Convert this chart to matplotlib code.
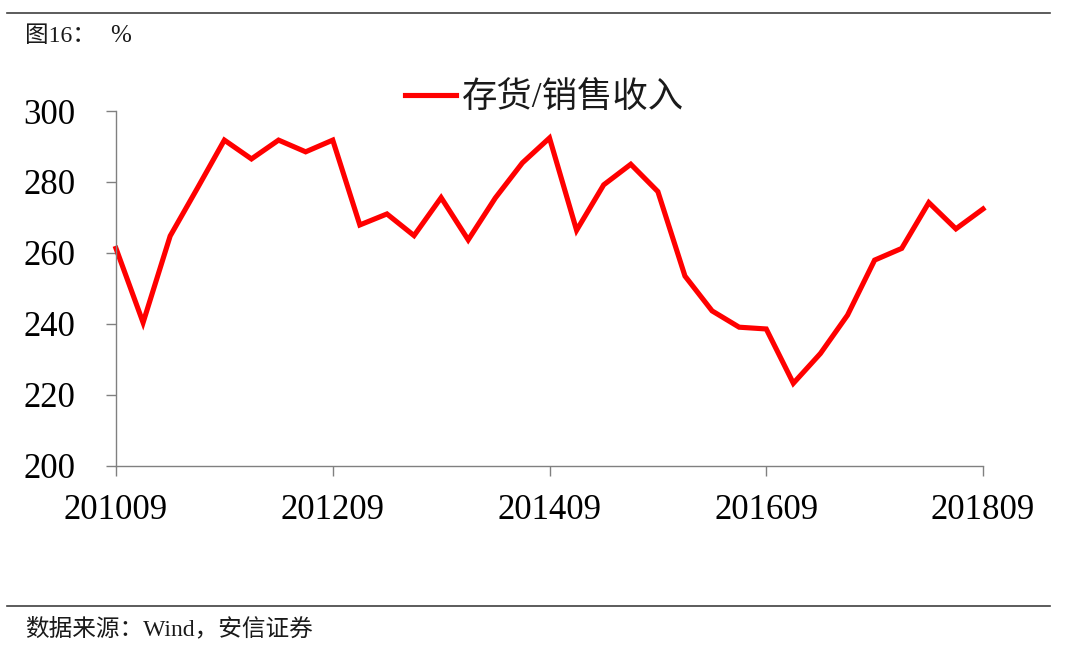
import matplotlib
matplotlib.use("Agg")
import matplotlib.pyplot as plt
from matplotlib.lines import Line2D

plt.rcParams['font.family'] = ['Liberation Serif', 'Noto Sans CJK SC', 'DejaVu Sans']

periods = ['201009', '201012', '201103', '201106', '201109', '201112', '201203', '201206',
           '201209', '201212', '201303', '201306', '201309', '201312', '201403', '201406',
           '201409', '201412', '201503', '201506', '201509', '201512', '201603', '201606',
           '201609', '201612', '201703', '201706', '201709', '201712', '201803', '201806',
           '201809']
ratio = [261.3, 240.4, 264.8, 278.2, 291.8, 286.5, 291.8, 288.5, 291.8, 267.9, 271.0,
         264.9, 275.6, 263.7, 275.5, 285.4, 292.4, 266.4, 279.2, 285.0, 277.3, 253.5,
         243.7, 239.1, 238.6, 223.3, 231.7, 242.5, 258.0, 261.3, 274.2, 266.8, 272.4]
series_name = '存货/销售收入'
yticks = [200, 220, 240, 260, 280, 300]
title_text = '图16：'
unit_text = '%'
source_text = '数据来源：Wind，安信证券'

W, H = 1080, 656
fig = plt.figure(figsize=(W / 100, H / 100), dpi=100)
ax = fig.add_axes([116 / W, (H - 466) / H, (983 - 116) / W, (466 - 111) / H])

x = list(range(len(periods)))
ax.plot(x, ratio, color='#FF0000', lw=3.7, label=series_name, clip_on=False,
        solid_joinstyle='miter')

ax.set_xlim(0, len(periods) - 1)
ax.set_ylim(200, 300)
ax.set_yticks(yticks)
ax.set_xticks(x[::8])
ax.set_xticklabels(periods[::8])

for s in ['top', 'right']:
    ax.spines[s].set_visible(False)
for s in ['left', 'bottom']:
    ax.spines[s].set_color('#808080')
    ax.spines[s].set_linewidth(1.0)

ax.tick_params(axis='y', direction='out', length=7, width=1.0, color='#808080',
               labelsize=25, pad=22, labelcolor='black')
ax.tick_params(axis='x', direction='out', length=7, width=1.0, color='#808080',
               labelsize=25, pad=13, labelcolor='black')

leg = ax.legend(loc='center left', bbox_to_anchor=(405 / W, (H - 99) / H),
                bbox_transform=fig.transFigure, frameon=False, fontsize=25.5,
                handlelength=1.45, handletextpad=0.15, borderpad=0, borderaxespad=0)
for t in leg.get_texts():
    t.set_color('#1a1a1a')

# header/footer rules
fig.add_artist(Line2D([7 / W, 1050 / W], [(H - 12.5) / H] * 2, transform=fig.transFigure,
                      color='#404040', lw=1.2))
fig.add_artist(Line2D([7 / W, 1050 / W], [(H - 606) / H] * 2, transform=fig.transFigure,
                      color='#404040', lw=1.2))

fig.text(25 / W, (H - 36) / H, title_text, fontsize=17, va='center', ha='left', color='#1a1a1a')
fig.text(110 / W, (H - 36) / H, unit_text, fontsize=18, va='center', ha='left', color='#1a1a1a')
fig.text(25 / W, (H - 629) / H, source_text, fontsize=17, va='center', ha='left', color='#1a1a1a')

fig.savefig('out.png', dpi=100, facecolor='white')
